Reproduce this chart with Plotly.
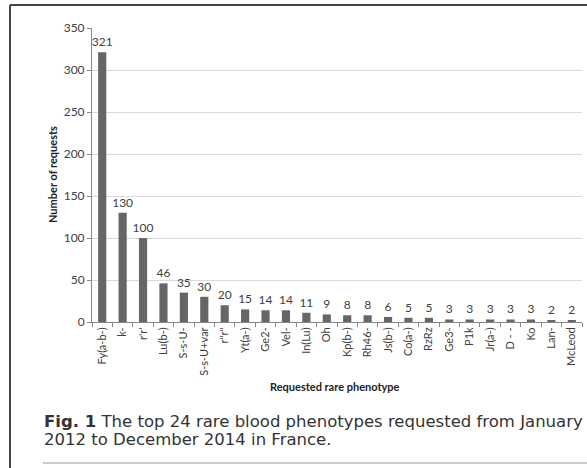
import plotly.graph_objects as go

categories = ["Fy(a-b-)", "k-", "r'r'", "Lu(b-)", "S-s-U-", "S-s-U+var", 'r"r"',
              "Yt(a-)", "Ge2-", "Vel-", "In(Lu)", "Oh", "Kp(b-)", "Rh46-", "Js(b-)",
              "Co(a-)", "RzRz", "Ge3-", "P1k", "Jr(a-)", "D - -", "Ko", "Lan-", "McLeod"]
requests = [321, 130, 100, 46, 35, 30, 20, 15, 14, 14, 11, 9, 8, 8, 6, 5, 5, 3, 3, 3, 3, 3, 2, 2]
y_ticks = [0, 50, 100, 150, 200, 250, 300, 350]

W, H = 587, 468
L, R, T, B = 92, 582, 28, 322
pw, ph = R - L, B - T

def px(x):
    return (x - L) / pw

def py(y):
    return (B - y) / ph

font_fam = "Lato, Liberation Sans, sans-serif"
txt_col = "#404040"

fig = go.Figure(go.Bar(
    x=categories, y=requests,
    marker=dict(color="#666666", line=dict(width=0)),
    text=[str(v) for v in requests], textposition="outside",
    textfont=dict(family=font_fam, size=12, color=txt_col),
    outsidetextfont=dict(family=font_fam, size=12, color=txt_col),
    constraintext="none",
    cliponaxis=False, width=0.4,
))

fig.update_layout(
    width=W, height=H,
    margin=dict(l=L, r=W - R, t=T, b=H - B, autoexpand=False),
    paper_bgcolor="white", plot_bgcolor="white",
    showlegend=False,
    font=dict(family=font_fam, color=txt_col),
    xaxis=dict(
        type="category", tickangle=-90, tickson="boundaries", automargin=False,
        ticks="outside", ticklen=4, tickcolor="#888888",
        showline=True, linecolor="#888888", linewidth=1,
        showgrid=False, tickfont=dict(family=font_fam, size=11, color=txt_col),
    ),
    yaxis=dict(
        range=[0, 350], tickvals=y_ticks, automargin=False,
        ticks="outside", ticklen=4, tickcolor="#888888",
        showline=True, linecolor="#888888", linewidth=1,
        showgrid=True, gridcolor="#d9d9d9", gridwidth=1,
        tickfont=dict(family=font_fam, size=12, color=txt_col),
        zeroline=False,
    ),
)

# frame lines
fig.add_shape(type="line", xref="paper", yref="paper", x0=px(10), x1=px(588), y0=py(5), y1=py(5),
              line=dict(color="#444444", width=2), layer="above")
fig.add_shape(type="line", xref="paper", yref="paper", x0=px(10), x1=px(10), y0=py(5), y1=py(470),
              line=dict(color="#444444", width=2), layer="above")
fig.add_shape(type="line", xref="paper", yref="paper", x0=px(43), x1=px(588), y0=py(463), y1=py(463),
              line=dict(color="#999999", width=1), layer="above")

fig.add_annotation(text="<b>Number of requests</b>", xref="paper", yref="paper",
                   x=px(52), y=py(175), textangle=-90, showarrow=False,
                   xanchor="center", yanchor="middle",
                   font=dict(family=font_fam, size=11, color="#222222"))
fig.add_annotation(text="<b>Requested rare phenotype</b>", xref="paper", yref="paper",
                   x=px(335), y=py(386), showarrow=False,
                   xanchor="center", yanchor="middle",
                   font=dict(family=font_fam, size=11, color="#222222"))

cap_font = dict(family="DejaVu Sans, Liberation Sans, sans-serif", size=16.5, color="#333333")
fig.add_annotation(
    text="<b>Fig. 1</b> The top 24 rare blood phenotypes requested from January",
    xref="paper", yref="paper", x=px(42), y=py(421), xanchor="left", yanchor="middle",
    align="left", showarrow=False, font=cap_font)
fig.add_annotation(
    text="2012 to December 2014 in France.",
    xref="paper", yref="paper", x=px(42), y=py(439), xanchor="left", yanchor="middle",
    align="left", showarrow=False, font=cap_font)

fig.write_html("out.html", config={"displayModeBar": False},
               post_script="document.body.style.margin='0';")
